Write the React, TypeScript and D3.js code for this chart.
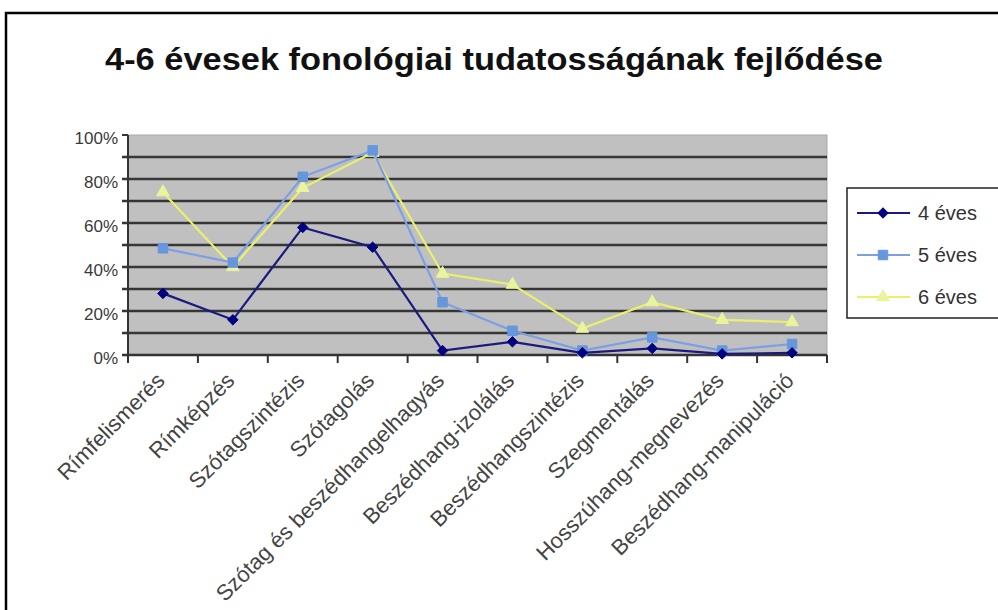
import React, { useEffect, useRef } from 'react';
import * as d3 from 'd3';

const title = '4-6 évesek fonológiai tudatosságának fejlődése';
const categories = [
  'Rímfelismerés',
  'Rímképzés',
  'Szótagszintézis',
  'Szótagolás',
  'Szótag és beszédhangelhagyás',
  'Beszédhang-izolálás',
  'Beszédhangszintézis',
  'Szegmentálás',
  'Hosszúhang-megnevezés',
  'Beszédhang-manipuláció',
];
const seriesNames = ['4 éves', '5 éves', '6 éves'];
const values4 = [28, 16, 58, 49, 2, 6, 1, 3, 0.5, 1];
const values5 = [48.5, 42, 81, 93, 24, 11, 2, 8, 2, 5];
const values6 = [74, 40, 76, 92, 37, 32, 12, 24, 16, 15];
const yTickValues = [0, 20, 40, 60, 80, 100];
const yGridValues = [10, 20, 30, 40, 50, 60, 70, 80, 90];

const diamond = {
  draw(ctx: any, size: number) {
    const r = Math.sqrt(size) / 2;
    ctx.moveTo(0, -r);
    ctx.lineTo(r, 0);
    ctx.lineTo(0, r);
    ctx.lineTo(-r, 0);
    ctx.closePath();
  },
};

export default function App() {
  const ref = useRef<SVGSVGElement>(null);

  useEffect(() => {
    const svg = d3.select(ref.current);
    svg.selectAll('*').remove();

    const W = 998, H = 610;
    svg.append('rect').attr('x', 0).attr('y', 0).attr('width', W).attr('height', H).attr('fill', '#fff');

    // outer frame (extends past the right/bottom edges)
    svg.append('rect').attr('x', 6).attr('y', 13).attr('width', 1100).attr('height', 700)
      .attr('fill', 'none').attr('stroke', '#000').attr('stroke-width', 2.5);

    // title
    svg.append('text').attr('x', 105).attr('y', 70).text(title)
      .attr('font-family', 'Liberation Sans, Arial, sans-serif').attr('font-weight', 'bold')
      .attr('font-size', 31).attr('fill', '#111')
      .attr('textLength', 778).attr('lengthAdjust', 'spacingAndGlyphs');

    const x = d3.scaleBand<string>().domain(categories).range([128, 827]);
    const y = d3.scaleLinear().domain([0, 100]).range([355, 135]);
    const [x0, x1] = x.range();

    // plot area
    svg.append('rect').attr('x', x0).attr('y', y(100)).attr('width', x1 - x0).attr('height', y(0) - y(100))
      .attr('fill', '#c0c0c0').attr('stroke', '#a8a8a8').attr('stroke-width', 1);

    // gridlines
    svg.append('g').selectAll('line').data(yGridValues).join('line')
      .attr('x1', x0 - 6).attr('x2', x1).attr('y1', d => y(d)).attr('y2', d => y(d))
      .attr('stroke', '#363636').attr('stroke-width', 2.4);
    // 100% tick
    svg.append('line').attr('x1', x0 - 6).attr('x2', x0).attr('y1', y(100)).attr('y2', y(100))
      .attr('stroke', '#363636').attr('stroke-width', 2);

    // y axis line
    svg.append('line').attr('x1', x0).attr('x2', x0).attr('y1', y(100)).attr('y2', y(0))
      .attr('stroke', '#333').attr('stroke-width', 2);
    // x axis line
    svg.append('line').attr('x1', x0 - 6).attr('x2', x1).attr('y1', y(0)).attr('y2', y(0))
      .attr('stroke', '#333').attr('stroke-width', 2.4);
    // x ticks at category boundaries
    const bounds = categories.map(c => x(c) as number).concat([x1]);
    svg.append('g').selectAll('line').data(bounds).join('line')
      .attr('x1', d => d).attr('x2', d => d).attr('y1', y(0)).attr('y2', y(0) + 8)
      .attr('stroke', '#333').attr('stroke-width', 2);

    // y labels
    svg.append('g').selectAll('text').data(yTickValues).join('text')
      .attr('x', 118).attr('y', d => y(d) + 9).attr('text-anchor', 'end')
      .attr('font-family', 'Liberation Sans, Arial, sans-serif').attr('font-size', 17)
      .attr('fill', '#3a3a3a').text(d => d + '%');

    // x labels
    svg.append('g').selectAll('text').data(categories).join('text')
      .attr('transform', d => `translate(${(x(d) as number) + x.bandwidth() / 2 + 3},${382}) rotate(-45)`)
      .attr('text-anchor', 'end')
      .attr('font-family', 'Liberation Sans, Arial, sans-serif').attr('font-size', 22)
      .attr('fill', '#444').text(d => d);

    const cx = (i: number) => (x(categories[i]) as number) + x.bandwidth() / 2;
    const series = [
      { name: seriesNames[2], values: values6, line: '#eaf06a', fill: '#e9f49c', sym: d3.symbolTriangle, size: 70 },
      { name: seriesNames[1], values: values5, line: '#7c9fe6', fill: '#6696dc', sym: d3.symbolSquare, size: 90 },
      { name: seriesNames[0], values: values4, line: '#1a1a80', fill: '#000080', sym: diamond, size: 110 },
    ];
    const lineGen = d3.line<number>().x((_, i) => cx(i)).y(d => y(d));
    series.forEach(s => {
      svg.append('path').attr('d', lineGen(s.values) as string).attr('fill', 'none')
        .attr('stroke', s.line).attr('stroke-width', 2.2);
      svg.append('g').selectAll('path').data(s.values).join('path')
        .attr('transform', (d, i) => `translate(${cx(i)},${y(d)})`)
        .attr('d', d3.symbol().type(s.sym as any).size(s.size)() as string)
        .attr('fill', s.fill).attr('stroke', s.fill).attr('stroke-width', 1);
    });

    // legend
    const lg = svg.append('g');
    lg.append('rect').attr('x', 847).attr('y', 188).attr('width', 200).attr('height', 130)
      .attr('fill', '#fff').attr('stroke', '#222').attr('stroke-width', 1.5);
    const legendItems = [series[2], series[1], series[0]];
    legendItems.forEach((s, i) => {
      const ly = 213 + i * 42;
      lg.append('line').attr('x1', 857).attr('x2', 910).attr('y1', ly).attr('y2', ly)
        .attr('stroke', s.line).attr('stroke-width', 2.2);
      lg.append('path').attr('transform', `translate(883,${ly})`)
        .attr('d', d3.symbol().type(s.sym as any).size(s.size)() as string)
        .attr('fill', s.fill).attr('stroke', s.fill);
      lg.append('text').attr('x', 918).attr('y', ly + 7).text(s.name)
        .attr('font-family', 'Liberation Sans, Arial, sans-serif').attr('font-size', 20).attr('fill', '#333');
    });
  }, []);

  return (
    <svg ref={ref} width={998} height={610} style={{ position: 'absolute', left: 0, top: 0, display: 'block' }} />
  );
}
